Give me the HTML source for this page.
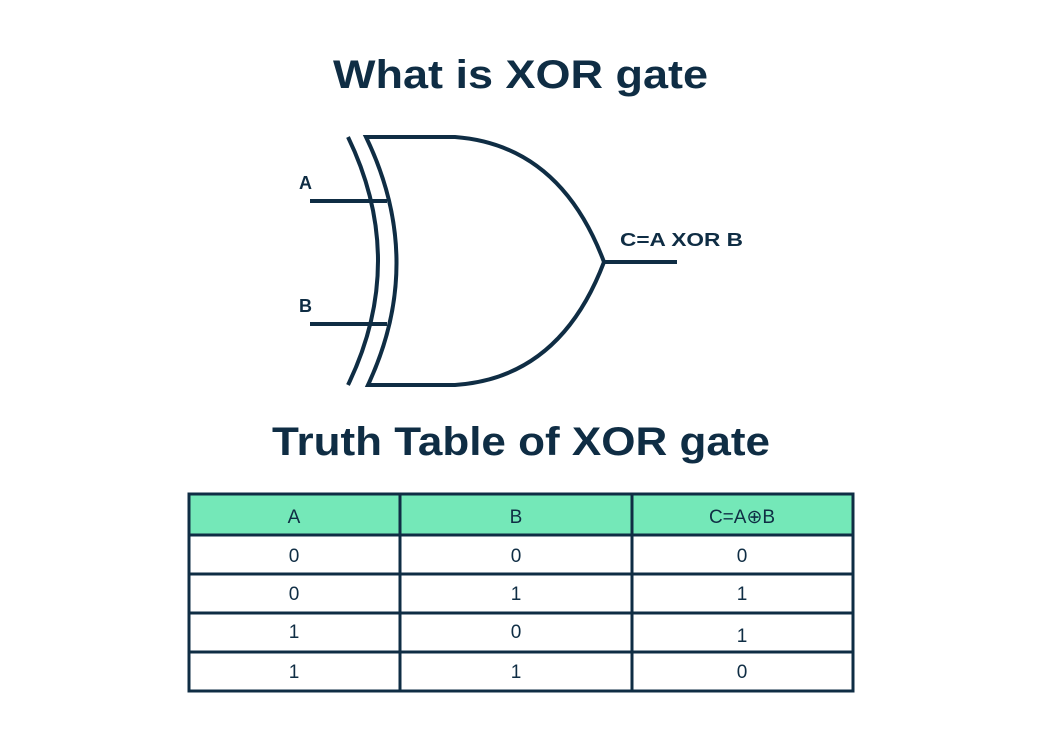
<!DOCTYPE html>
<html><head><meta charset="utf-8"><style>
html,body{margin:0;padding:0;background:#fff;}
svg{display:block;}
text{font-family:"Liberation Sans",sans-serif;fill:#0f2d44;}
</style></head><body>
<svg width="1042" height="745" viewBox="0 0 1042 745" xmlns="http://www.w3.org/2000/svg">
<rect width="1042" height="745" fill="#fff"/>
<text x="333" y="88" font-size="40" font-weight="bold" textLength="375" lengthAdjust="spacingAndGlyphs">What is XOR gate</text>
<g fill="none" stroke="#0f2d44" stroke-width="4">
<path d="M348,137 Q408,261 348,385"/>
<path d="M366,137 L455,137 Q560,145 604,262 Q560,378 455,385 L368,385 Q426,261 366,137 Z"/>
<line x1="310" y1="201" x2="387" y2="201"/>
<line x1="310" y1="324" x2="387" y2="324"/>
<line x1="604" y1="262" x2="677" y2="262"/>
</g>
<text x="299" y="189" font-size="18" font-weight="bold">A</text>
<text x="299" y="312" font-size="18" font-weight="bold">B</text>
<text x="620" y="246" font-size="18" font-weight="bold" textLength="123" lengthAdjust="spacingAndGlyphs">C=A XOR B</text>
<text x="272" y="455" font-size="40" font-weight="bold" textLength="498" lengthAdjust="spacingAndGlyphs">Truth Table of XOR gate</text>
<rect x="189" y="494" width="664" height="41" fill="#74e8b8"/>
<g stroke="#0f2d44" stroke-width="3" fill="none">
<rect x="189" y="494" width="664" height="197"/>
<line x1="400" y1="494" x2="400" y2="691"/>
<line x1="632" y1="494" x2="632" y2="691"/>
<line x1="189" y1="535" x2="853" y2="535"/>
<line x1="189" y1="574" x2="853" y2="574"/>
<line x1="189" y1="613" x2="853" y2="613"/>
<line x1="189" y1="652" x2="853" y2="652"/>
</g>
<g font-size="19" text-anchor="middle">
<text x="294" y="523">A</text><text x="516" y="523">B</text><text x="742" y="523">C=A⊕B</text>
<text x="294" y="562">0</text><text x="516" y="562">0</text><text x="742" y="562">0</text>
<text x="294" y="600">0</text><text x="516" y="600">1</text><text x="742" y="600">1</text>
<text x="294" y="638">1</text><text x="516" y="638">0</text><text x="742" y="642">1</text>
<text x="294" y="678">1</text><text x="516" y="678">1</text><text x="742" y="678">0</text>
</g>
</svg>
</body></html>
